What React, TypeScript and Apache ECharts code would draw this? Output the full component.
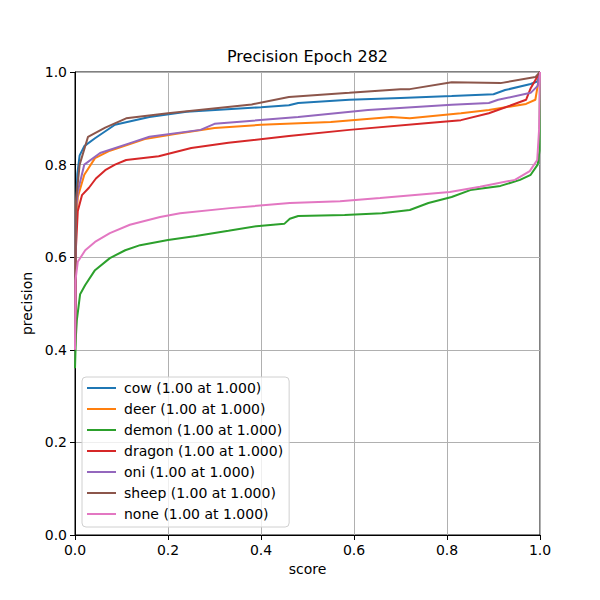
import React, { useEffect, useRef } from "react";
import * as echarts from "echarts";

const classNames = ["cow", "deer", "demon", "dragon", "oni", "sheep", "none"];
const colors = ["#1f77b4", "#ff7f0e", "#2ca02c", "#d62728", "#9467bd", "#8c564b", "#e377c2"];
const legendSuffix = " (1.00 at 1.000)";
const tickLabels = ["0.0", "0.2", "0.4", "0.6", "0.8", "1.0"];

const cowScore = [0, 0.002, 0.005, 0.01, 0.02, 0.043, 0.086, 0.16, 0.24, 0.4, 0.46, 0.48, 0.59, 0.7, 0.81, 0.9, 0.925, 0.98, 0.995, 1.0];
const cowPrec = [0.4, 0.7, 0.78, 0.82, 0.84, 0.857, 0.886, 0.903, 0.914, 0.924, 0.928, 0.933, 0.94, 0.944, 0.948, 0.952, 0.961, 0.974, 0.98, 1.0];

const deerScore = [0, 0.002, 0.006, 0.02, 0.043, 0.075, 0.15, 0.215, 0.3, 0.4, 0.55, 0.68, 0.72, 0.83, 0.89, 0.97, 0.99, 1.0];
const deerPrec = [0.4, 0.66, 0.73, 0.778, 0.814, 0.83, 0.855, 0.866, 0.879, 0.886, 0.892, 0.903, 0.9, 0.911, 0.918, 0.931, 0.94, 1.0];

const demonScore = [0, 0.002, 0.004, 0.011, 0.022, 0.043, 0.075, 0.108, 0.14, 0.2, 0.26, 0.33, 0.39, 0.45, 0.462, 0.48, 0.58, 0.66, 0.72, 0.76, 0.81, 0.85, 0.915, 0.957, 0.98, 0.995, 0.999, 1.0];
const demonPrec = [0.36, 0.43, 0.464, 0.52, 0.54, 0.572, 0.598, 0.615, 0.626, 0.637, 0.646, 0.657, 0.667, 0.672, 0.683, 0.689, 0.691, 0.695, 0.702, 0.717, 0.73, 0.745, 0.754, 0.767, 0.778, 0.8, 0.83, 1.0];

const dragonScore = [0, 0.002, 0.006, 0.015, 0.03, 0.045, 0.065, 0.086, 0.11, 0.18, 0.25, 0.33, 0.46, 0.59, 0.76, 0.83, 0.89, 0.935, 0.97, 0.98, 1.0];
const dragonPrec = [0.4, 0.62, 0.7, 0.734, 0.75, 0.77, 0.788, 0.8, 0.81, 0.818, 0.836, 0.847, 0.862, 0.875, 0.89, 0.896, 0.911, 0.927, 0.94, 0.965, 1.0];

const oniScore = [0, 0.002, 0.006, 0.02, 0.054, 0.12, 0.16, 0.27, 0.3, 0.48, 0.63, 0.81, 0.89, 0.91, 0.98, 0.995, 1.0];
const oniPrec = [0.4, 0.7, 0.742, 0.8, 0.825, 0.847, 0.86, 0.875, 0.888, 0.903, 0.918, 0.929, 0.933, 0.94, 0.955, 0.97, 1.0];

const sheepScore = [0, 0.002, 0.01, 0.028, 0.065, 0.11, 0.2, 0.38, 0.46, 0.59, 0.7, 0.72, 0.81, 0.915, 0.99, 1.0];
const sheepPrec = [0.4, 0.72, 0.8, 0.86, 0.88, 0.9, 0.911, 0.93, 0.946, 0.955, 0.963, 0.963, 0.978, 0.976, 0.989, 1.0];

const noneScore = [0, 0.001, 0.006, 0.022, 0.043, 0.075, 0.118, 0.183, 0.226, 0.333, 0.462, 0.57, 0.656, 0.806, 0.871, 0.946, 0.978, 0.994, 0.998, 1.0];
const nonePrec = [0.4, 0.55, 0.59, 0.615, 0.633, 0.652, 0.67, 0.687, 0.695, 0.706, 0.717, 0.721, 0.728, 0.741, 0.752, 0.767, 0.786, 0.81, 0.875, 1.0];

const scores = [cowScore, deerScore, demonScore, dragonScore, oniScore, sheepScore, noneScore];
const precisions = [cowPrec, deerPrec, demonPrec, dragonPrec, oniPrec, sheepPrec, nonePrec];

const FONT = "DejaVu Sans";
const LINE_ICON = "path://M0,0 L0,0 M0,6 L29,6 L29,8 L0,8 Z M29,14 L29,14";

export default function App() {
  const ref = useRef<HTMLDivElement>(null);
  useEffect(() => {
    if (!ref.current) return;
    const chart = echarts.init(ref.current, undefined, { renderer: "svg" });
    const series = classNames.map((name, i) => ({
      name: name + legendSuffix,
      type: "line",
      symbol: "none",
      showSymbol: false,
      data: scores[i].map((s, j) => [s, precisions[i][j]]),
      lineStyle: { color: colors[i], width: 2 },
      itemStyle: { color: colors[i] },
    }));
    const axisCommon = {
      type: "value",
      min: 0,
      max: 1,
      interval: 0.2,
      axisLine: { show: true, onZero: false, lineStyle: { color: "#000", width: 1 } },
      axisTick: { show: true, inside: false, length: 5, lineStyle: { color: "#000" } },
      splitLine: { show: true, lineStyle: { color: "#b0b0b0", width: 1 } },
      nameLocation: "middle",
      nameTextStyle: { color: "#000", fontSize: 14, fontFamily: FONT },
    };
    chart.setOption({
      animation: false,
      backgroundColor: "#fff",
      title: {
        text: "Precision Epoch 282",
        left: 307.5,
        top: 48,
        padding: 0,
        textAlign: "center",
        textStyle: { fontSize: 16, fontWeight: "normal", color: "#000", fontFamily: FONT },
      },
      grid: {
        left: 75,
        right: 60,
        top: 72,
        bottom: 65,
        show: true,
        borderColor: "#000",
        borderWidth: 1,
        backgroundColor: "transparent",
      },
      legend: {
        orient: "vertical",
        left: 82,
        top: 377,
        padding: [4, 6, 6, 5],
        itemWidth: 29,
        itemHeight: 14,
        itemGap: 7,
        borderColor: "#d0d0d0",
        borderWidth: 1,
        borderRadius: 4,
        backgroundColor: "rgba(255,255,255,0.8)",
        textStyle: { fontSize: 14, color: "#000", fontFamily: FONT, padding: [0, 0, 0, 3] },
        data: classNames.map((n, i) => ({
          name: n + legendSuffix,
          icon: LINE_ICON,
          itemStyle: { color: colors[i], borderWidth: 0 },
        })),
      },
      xAxis: {
        ...axisCommon,
        name: "score",
        nameGap: 27,
        axisLabel: {
          color: "#000",
          fontSize: 14,
          fontFamily: FONT,
          margin: 8,
          formatter: (v: number) => tickLabels[Math.round(v / 0.2)] ?? "",
        },
      },
      yAxis: {
        ...axisCommon,
        name: "precision",
        nameGap: 37,
        axisLabel: {
          color: "#000",
          fontSize: 14,
          fontFamily: FONT,
          margin: 8,
          formatter: (v: number) => tickLabels[Math.round(v / 0.2)] ?? "",
        },
      },
      series,
    });
    return () => chart.dispose();
  }, []);
  return <div ref={ref} style={{ width: 600, height: 600, position: "absolute", left: 0, top: 0 }} />;
}
